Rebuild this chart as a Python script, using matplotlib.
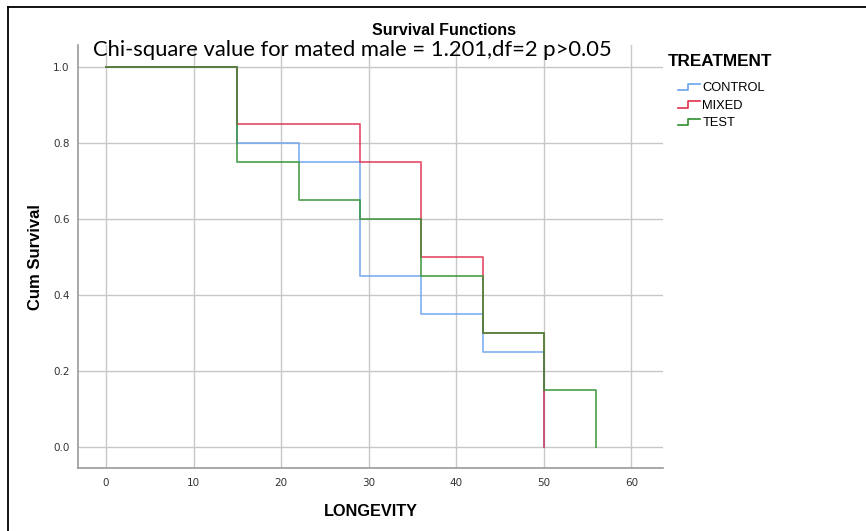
import matplotlib.pyplot as plt
from matplotlib.legend_handler import HandlerBase
from matplotlib.lines import Line2D

# step points of the survival curves (longevity, cum survival)
control_t = [0, 15, 22, 29, 36, 43, 50]
control_s = [1.0, 0.80, 0.75, 0.45, 0.35, 0.25, 0.0]
mixed_t = [0, 15, 29, 36, 43, 50]
mixed_s = [1.0, 0.85, 0.75, 0.50, 0.30, 0.0]
test_t = [0, 15, 22, 29, 36, 43, 50, 56]
test_s = [1.0, 0.75, 0.65, 0.60, 0.45, 0.30, 0.15, 0.0]

labels = ['CONTROL', 'MIXED', 'TEST']
colors = ['#6aa4ee', '#e0304f', '#2f8f2f']
xticks = [0, 10, 20, 30, 40, 50, 60]
yticks = [0.0, 0.2, 0.4, 0.6, 0.8, 1.0]


class StepHandler(HandlerBase):
    # small step icon like the spss legend
    def create_artists(self, legend, orig, xd, yd, w, h, fs, trans):
        xs = [xd, xd + w * 0.45, xd + w * 0.45, xd + w]
        ys = [yd + h * 0.15, yd + h * 0.15, yd + h * 0.85, yd + h * 0.85]
        ln = Line2D(xs, ys, color=orig.get_color(), lw=1.2, transform=trans)
        return [ln]


fig = plt.figure(figsize=(8.66, 5.31), dpi=100)
ax = fig.add_axes([0.090, 0.1186, 0.6756, 0.7964])

# test curve drawn last so it sits on top, as in the spss output
curves = [(control_t, control_s), (mixed_t, mixed_s), (test_t, test_s)]
handles = []
for (t, s), c in zip(curves, colors):
    ln, = ax.step(t, s, where='post', color=c, lw=1.3, alpha=0.8, zorder=3)
    handles.append(ln)

ax.set_xlim(-3.2, 63.6)
ax.set_ylim(-0.055, 1.058)
ax.set_xticks(xticks)
ax.set_yticks(yticks)
ax.set_yticklabels([f'{v:.1f}' for v in yticks])
ax.grid(True, color='#c8c8c8', lw=1)
ax.set_axisbelow(True)
for sp in ['top', 'right']:
    ax.spines[sp].set_visible(False)
for sp in ['left', 'bottom']:
    ax.spines[sp].set_color('#9a9a9a')
    ax.spines[sp].set_linewidth(1.2)
ax.tick_params(length=0, labelsize=7.5, colors='#333333')
ax.tick_params(axis='x', pad=7)
ax.tick_params(axis='y', pad=6)

ax.set_xlabel('LONGEVITY', fontsize=11.7, fontweight='bold', labelpad=12,
              family='Liberation Sans')
ax.set_ylabel('Cum Survival', fontsize=12, fontweight='bold', labelpad=7,
              family='Liberation Sans')

fig.text(0.513, 0.942, 'Survival Functions', ha='center', va='center',
         fontsize=11.5, fontweight='bold', family='Liberation Sans')
fig.text(0.107, 0.905, 'Chi-square value for mated male = 1.201,df=2 p>0.05',
         ha='left', va='center', fontsize=15.8, family='Lato')

fig.text(0.771, 0.885, 'TREATMENT', ha='left', va='center',
         fontsize=12.3, fontweight='bold', family='Liberation Sans')
leg = fig.legend(handles, labels, handler_map={Line2D: StepHandler()},
                 loc='upper left', bbox_to_anchor=(0.776, 0.857),
                 frameon=False, handlelength=1.7, handletextpad=0.15,
                 labelspacing=0.42, borderpad=0,
                 prop={'family': 'Liberation Sans', 'size': 9.3})

# partial frame of the exported spss picture (top and left only)
fig.add_artist(Line2D([0.009, 1.0], [0.987, 0.987], transform=fig.transFigure,
                      color='black', lw=1.3))
fig.add_artist(Line2D([0.0095, 0.0095], [0.0, 0.987], transform=fig.transFigure,
                      color='black', lw=1.3))

fig.savefig('out.png', dpi=100)
